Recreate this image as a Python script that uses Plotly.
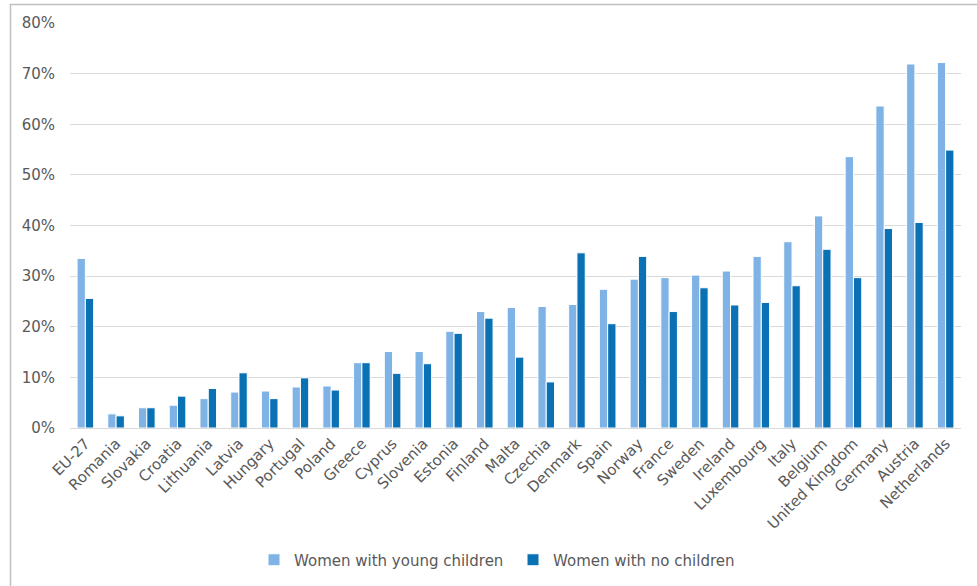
import plotly.graph_objects as go

countries = ["EU-27", "Romania", "Slovakia", "Croatia", "Lithuania", "Latvia", "Hungary",
             "Portugal", "Poland", "Greece", "Cyprus", "Slovenia", "Estonia", "Finland",
             "Malta", "Czechia", "Denmark", "Spain", "Norway", "France", "Sweden", "Ireland",
             "Luxembourg", "Italy", "Belgium", "United Kingdom", "Germany", "Austria",
             "Netherlands"]

young_children = [33.5, 2.8, 4.0, 4.5, 5.8, 7.1, 7.3, 8.1, 8.3, 12.9, 15.1, 15.1, 19.1, 23.0,
                  23.8, 24.0, 24.4, 27.4, 29.4, 29.7, 30.2, 31.0, 33.9, 36.8, 41.9, 53.6,
                  63.6, 71.9, 72.2]

no_children = [25.6, 2.4, 4.0, 6.3, 7.8, 10.9, 5.8, 9.9, 7.5, 12.9, 10.8, 12.7, 18.7, 21.7,
               14.0, 9.1, 34.6, 20.6, 33.9, 23.0, 27.7, 24.3, 24.8, 28.1, 35.3, 29.7,
               39.4, 40.6, 54.9]

y_ticks = [0, 10, 20, 30, 40, 50, 60, 70, 80]
y_tick_labels = [f"{v}%" for v in y_ticks]

TEXT = "#595959"
FONT = "DejaVu Sans"

fig = go.Figure()
fig.add_trace(go.Bar(
    x=countries, y=young_children, name="Women with young children",
    marker=dict(color="#7FB2E5", line=dict(color="white", width=1)),
))
fig.add_trace(go.Bar(
    x=countries, y=no_children, name="Women with no children",
    marker=dict(color="#0A71B4", line=dict(color="white", width=1)),
))

L, R, T, B = 70, 16, 23, 158
PW = 977 - L - R
PH = 586 - T - B

fig.update_layout(
    width=977, height=586,
    margin=dict(l=L, r=R, t=T, b=B, autoexpand=False),
    paper_bgcolor="white", plot_bgcolor="white",
    barmode="group", bargap=0.46, bargroupgap=0.0,
    font=dict(family=FONT, color=TEXT, size=14),
    showlegend=True,
    legend=dict(orientation="h", x=(254 - L) / PW, xanchor="left",
                y=-(560 - (586 - B)) / PH, yanchor="middle",
                font=dict(size=15, color=TEXT, family=FONT),
                itemwidth=30, entrywidth=214, entrywidthmode="pixels",
                traceorder="normal", bgcolor="rgba(0,0,0,0)"),
    xaxis=dict(tickangle=-45, tickfont=dict(size=15, color=TEXT, family=FONT),
               showgrid=False, showline=True, linecolor="#d9d9d9", linewidth=1,
               ticks="", automargin=False),
    yaxis=dict(range=[0, 80], tickvals=y_ticks, ticktext=y_tick_labels,
               tickfont=dict(size=15, color=TEXT, family=FONT),
               showgrid=True, gridcolor="#d9d9d9", gridwidth=1,
               zeroline=True, zerolinecolor="#d9d9d9", zerolinewidth=1,
               ticks="", ticklabelstandoff=14, automargin=False),
    shapes=[dict(type="rect", xref="paper", yref="paper",
                 x0=(10.5 - L) / PW, x1=1.05, y0=-0.6, y1=1 + (T - 4.5) / PH,
                 line=dict(color="#bfbfbf", width=1.5), fillcolor="rgba(0,0,0,0)",
                 layer="below")],
)

fig.write_html("out.html", config={"displayModeBar": False},
               post_script="document.body.style.margin='0';")
